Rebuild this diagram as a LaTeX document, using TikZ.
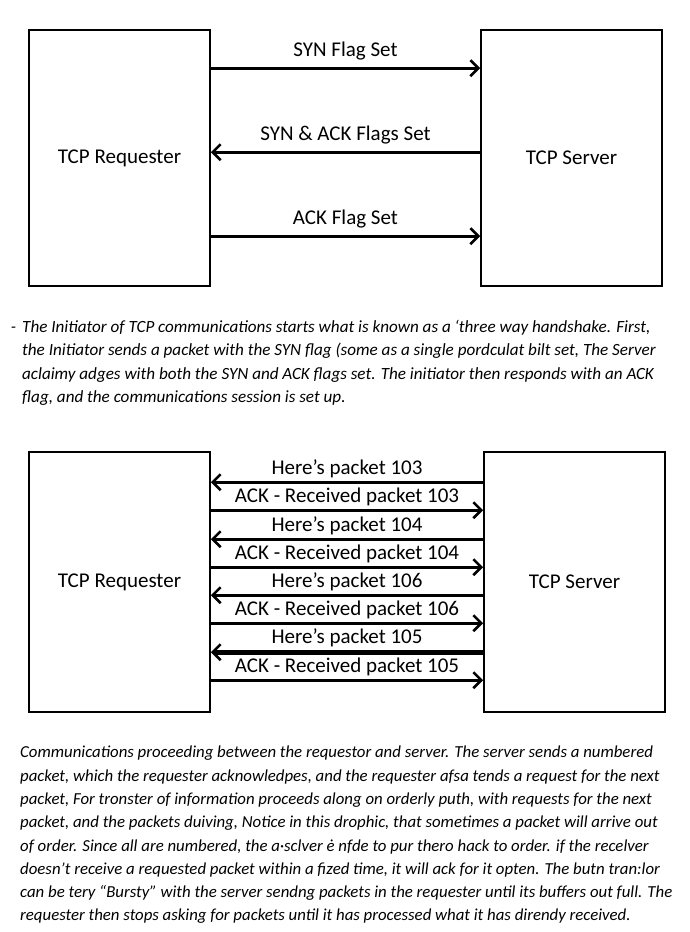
\documentclass[tikz,border=0pt]{standalone}
\usepackage{fontspec}
\setmainfont{Carlito}
\usetikzlibrary{arrows.meta,positioning}

\begin{document}
\begin{tikzpicture}[x=1pt,y=-1pt,font=\fontsize{21}{24}\selectfont,
  host/.style={draw, line width=1.6pt, minimum width=181pt, minimum height=256pt},
  msg/.style={line width=3pt, -{Straight Barb[length=8pt,width=16pt,line width=2.6pt]}},
  bigmsg/.style={msg, line width=4.6pt},
  lbl/.style={midway, above=7pt, inner sep=0pt},
  pktlbl/.style={midway, above=3pt, inner sep=0pt},
  note/.style={align=left, inner sep=0pt, anchor=north west,
    font=\fontsize{17.1}{23.4}\selectfont\itshape},
]
\useasboundingbox (0,0) rectangle (690,932);

% three way handshake
\node[host] (reqA) at (119.5,158) {TCP Requester};
\node[host] (srvA) at (571.5,158) {TCP Server};

\draw[msg] ([yshift=-39pt]reqA.north east) -- ([yshift=-39pt]srvA.north west) node[lbl] {SYN Flag Set};
\draw[msg] ([yshift=-123pt]srvA.north west) -- ([yshift=-123pt]reqA.north east) node[lbl] {SYN \& ACK Flags Set};
\draw[msg] ([yshift=-207pt]reqA.north east) -- ([yshift=-207pt]srvA.north west) node[lbl] {ACK Flag Set};

\node[note] (handshake) at (22,320) {\llap{-\hspace{6pt}}The Initiator of TCP communications starts what is known as a ‘three way handshake. First,\\
the Initiator sends a packet with the SYN flag (some as a single pordculat bilt set, The Server\\
aclaimy adges with both the SYN and ACK flags set. The initiator then responds with an ACK\\
flag, and the communications session is set up.};

% packet exchange
\node[host, minimum height=260pt] (reqB) at (119.5,582) {TCP Requester};
\node[host, minimum height=260pt] (srvB) at (574.5,582) {TCP Server};

\draw[msg] ([yshift=-31pt]srvB.north west) -- ([yshift=-31pt]reqB.north east) node[pktlbl] {Here’s packet 103};
\draw[msg] ([yshift=-59pt]reqB.north east) -- ([yshift=-59pt]srvB.north west) node[pktlbl] {ACK - Received packet 103};
\draw[msg] ([yshift=-88pt]srvB.north west) -- ([yshift=-88pt]reqB.north east) node[pktlbl] {Here’s packet 104};
\draw[msg] ([yshift=-116pt]reqB.north east) -- ([yshift=-116pt]srvB.north west) node[pktlbl] {ACK - Received packet 104};
\draw[msg] ([yshift=-144pt]srvB.north west) -- ([yshift=-144pt]reqB.north east) node[pktlbl] {Here’s packet 106};
\draw[msg] ([yshift=-172pt]reqB.north east) -- ([yshift=-172pt]srvB.north west) node[pktlbl] {ACK - Received packet 106};
\draw[bigmsg] ([yshift=-201pt]srvB.north west) -- ([yshift=-201pt]reqB.north east) node[pktlbl] {Here’s packet 105};
\draw[msg] ([yshift=-229pt]reqB.north east) -- ([yshift=-229pt]srvB.north west) node[pktlbl] {ACK - Received packet 105};

\node[note, font=\fontsize{16.8}{23.3}\selectfont\itshape] (burst) at (20,746) {Communications proceeding between the requestor and server. The server sends a numbered\\
packet, which the requester acknowledpes, and the requester afsa tends a request for the next\\
packet, For tronster of information proceeds along on orderly puth, with requests for the next\\
packet, and the packets duiving, Notice in this drophic, that sometimes a packet will arrive out\\
of order. Since all are numbered, the a·sclver ė nfde to pur thero hack to order. if the recelver\\
doesn’t receive a requested packet within a fized time, it will ack for it opten. The butn tran:lor\\
can be tery “Bursty” with the server sendng packets in the requester until its buffers out full. The\\
requester then stops asking for packets until it has processed what it has direndy received.};
\end{tikzpicture}
\end{document}
